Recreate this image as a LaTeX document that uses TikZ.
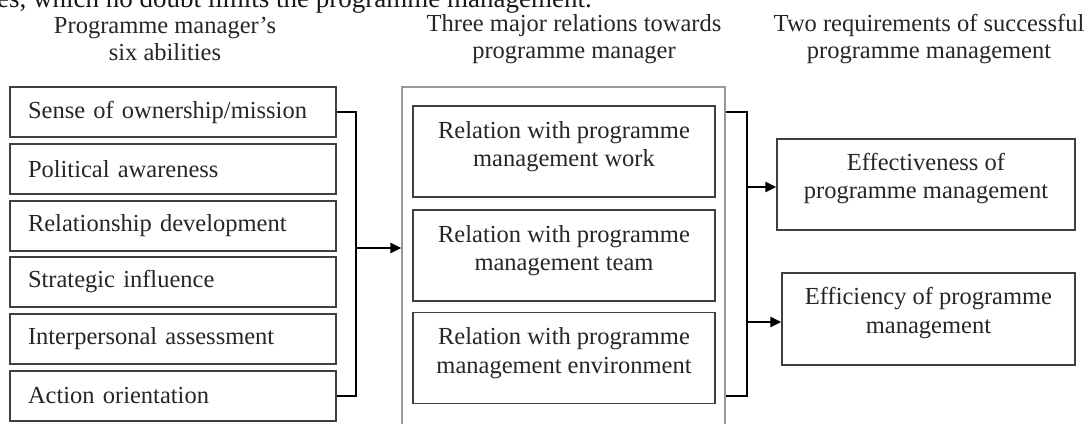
\documentclass[tikz,border=0pt]{standalone}
\usepackage{fontspec}
\setmainfont{Liberation Serif}
\usetikzlibrary{arrows.meta}
\begin{document}
\begin{tikzpicture}[x=1pt,y=-1pt,
  lbl/.style={font=\fontsize{24.5}{27.5}\selectfont, text=black!85, inner sep=0pt},
  lbox/.style={lbl, draw=black!75, line width=1.4pt, minimum height=50pt, text width=290pt,
    inner xsep=18pt, inner ysep=0pt, align=left},
  obox/.style={draw=black!40, line width=1.4pt, minimum width=323pt, minimum height=360pt, inner sep=0pt},
  ibox/.style={draw=black!75, line width=1.4pt, minimum height=91pt, inner sep=0pt},
  btext/.style={lbl, align=center, font=\fontsize{24.5}{28.5}\selectfont},
  head/.style={lbl, align=center},
  conn/.style={draw=black, line width=2.4pt},
  arr/.style={conn, -{Triangle[length=11pt,width=10pt]}}
]
\useasboundingbox (0,0) rectangle (1091,423);
\fill[white] (0,0) rectangle (1091,423);

% cropped text line at the top
\node[anchor=base east, font=\fontsize{27}{30}\selectfont, text=black!90, inner sep=0pt] (topline) at (592,8) {nities, which no doubt limits the programme management.};

% headings
\node[head] (h1) at (165,39) {Programme manager's\\six abilities};
\node[head] (h2) at (574,39) {Three major relations towards\\programme manager};
\node[head] (h3) at (929,39) {Two requirements of successful\\programme management};

% left boxes
\node[lbox] (a1) at (173,112) {Sense of ownership/mission};
\node[lbox] (a2) at (173,169) {Political awareness};
\node[lbox] (a3) at (173,226) {Relationship development};
\node[lbox] (a4) at (173,282) {Strategic influence};
\node[lbox] (a5) at (173,339) {Interpersonal assessment};
\node[lbox] (a6) at (173,396) {Action orientation};

% middle outer box
\node[obox] (outer) at (563.5,267) {};

% inner boxes
\node[ibox, minimum width=302pt] (m1) at (564,151.5) {};
\node[btext] (m1t) at ([yshift=5pt]m1.center) {Relation with programme\\management work};
\node[ibox, minimum width=302pt] (m2) at (564,255.5) {};
\node[btext] (m2t) at ([yshift=5pt]m2.center) {Relation with programme\\management team};
\node[ibox, minimum width=302pt] (m3) at (564,358) {};
\node[btext] (m3t) at ([yshift=5pt]m3.center) {Relation with programme\\management environment};

% right boxes
\node[ibox, minimum width=298pt] (r1) at (926,184.5) {};
\node[btext] (r1t) at ([yshift=6pt]r1.center) {Effectiveness of\\programme management};
\node[ibox, minimum width=293pt, minimum height=92pt] (r2) at (928.5,319) {};
\node[btext] (r2t) at ([yshift=6pt]r2.center) {Efficiency of programme\\management};

% left connector
\coordinate (jl) at (356,248);
\draw[conn] (a1.east) -| (jl) |- (a6.east);
\draw[arr] (jl) -- (jl -| outer.west);

% right connector
\coordinate (rt) at (outer.east |- a1.east);
\coordinate (rb) at (outer.east |- a6.east);
\coordinate (jr) at (747,187);
\coordinate (jr2) at (747,322);
\draw[conn] (rt) -| (jr) |- (rb);
\draw[arr] (jr) -- (jr -| r1.west);
\draw[arr] (jr2) -- (jr2 -| r2.west);
\end{tikzpicture}
\end{document}
